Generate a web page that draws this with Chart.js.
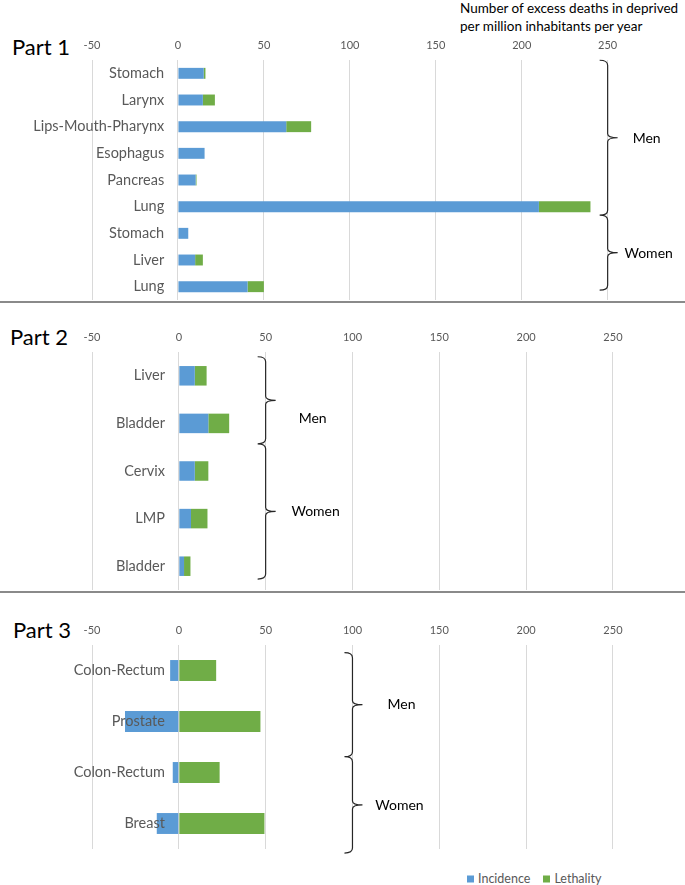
<!DOCTYPE html>
<html>
<head>
<meta charset="utf-8">
<script src="https://cdn.jsdelivr.net/npm/chart.js@4/dist/chart.umd.min.js"></script>
<style>
  body { margin: 0; background: #fff; font-family: Lato, sans-serif; }
  #page { position: relative; width: 685px; height: 885px; overflow: hidden; }
  .box { position: absolute; left: 0; }
  .part { position: absolute; font-size: 22px; color: #000; transform: translateY(-50%); line-height: 1; }
  .rule { position: absolute; left: 0; width: 685px; height: 2px; background: #8a8a8a; }
  #title { position: absolute; left: 460px; top: -1px; font-size: 13.5px; line-height: 18px; color: #000; white-space: nowrap; }
  #legend { position: absolute; left: 467px; top: 878px; transform: translateY(-50%); display: flex; gap: 13px; font-size: 12.5px; color: #595959; }
  #legend span.sw { display: inline-block; width: 7px; height: 7px; margin-right: 4px; }
</style>
</head>
<body>
<div id="page">
  <div id="title">Number of excess deaths in deprived<br>per million inhabitants per year</div>
  <div class="part" style="left:12px; top:47px;">Part 1</div>
  <div class="part" style="left:10px; top:337px;">Part 2</div>
  <div class="part" style="left:13px; top:630px;">Part 3</div>
  <div class="rule" style="top:301px;"></div>
  <div class="rule" style="top:591px;"></div>
  <div class="box" style="top:32px;"><canvas id="part1" width="685" height="268"></canvas></div>
  <div class="box" style="top:324px;"><canvas id="part2" width="685" height="266"></canvas></div>
  <div class="box" style="top:617px;"><canvas id="part3" width="685" height="240"></canvas></div>
  <div id="legend"></div>
</div>
<script>
// Part 1
const part1Labels = ['Stomach', 'Larynx', 'Lips-Mouth-Pharynx', 'Esophagus', 'Pancreas', 'Lung', 'Stomach', 'Liver', 'Lung'];
const part1Incidence = [15, 14.5, 63, 15.5, 10.3, 210, 6, 10, 40.5];
const part1Lethality = [1, 7, 14.5, 0, 0.5, 30, 0, 4.5, 9.5];

// Part 2
const part2Labels = ['Liver', 'Bladder', 'Cervix', 'LMP', 'Bladder'];
const part2Incidence = [9.2, 17, 9.2, 7, 3];
const part2Lethality = [6.8, 12, 7.8, 9.5, 3.7];

// Part 3
const part3Labels = ['Colon-Rectum', 'Prostate', 'Colon-Rectum', 'Breast'];
const part3Incidence = [-5, -31, -3.5, -12.7];
const part3Lethality = [21.5, 47, 23.5, 49.3];

const seriesNames = ['Incidence', 'Lethality'];
const groupNames = ['Men', 'Women'];
const xMin = -50;
const xStep = 50;

const BLUE = '#5B9BD5';
const GREEN = '#70AD47';

Chart.defaults.font.family = 'Lato, sans-serif';

// curly braces grouping Men / Women at the right of each part
const bracePlugin = {
    id: 'braces',
    afterDraw(chart, args, opts) {
        const ctx = chart.ctx;
        const x = chart.scales.x;
        const y = chart.scales.y;
        const bx = x.getPixelForValue(opts.at);
        const marks = opts.marks.map(v => y.getPixelForValue(v));

        ctx.save();
        ctx.strokeStyle = '#262626';
        ctx.lineWidth = 1.2;
        ctx.beginPath();
        for (let i = 0; i < marks.length - 1; i++) {
            const top = marks[i];
            const bot = marks[i + 1];
            const mid = (top + bot) / 2;
            ctx.moveTo(bx - 8, top);
            ctx.quadraticCurveTo(bx, top, bx, top + 5);
            ctx.lineTo(bx, mid - 4);
            ctx.quadraticCurveTo(bx, mid, bx + 10, mid);
            ctx.moveTo(bx + 10, mid);
            ctx.quadraticCurveTo(bx, mid, bx, mid + 4);
            ctx.lineTo(bx, bot - 5);
            ctx.quadraticCurveTo(bx, bot, bx - 8, bot);
        }
        ctx.stroke();

        ctx.fillStyle = '#000';
        ctx.font = '14px Lato, sans-serif';
        ctx.textAlign = 'center';
        ctx.textBaseline = 'middle';
        opts.labels.forEach((l, i) => {
            ctx.fillText(groupNames[i], bx + l.dx, y.getPixelForValue(l.at));
        });
        ctx.restore();
    }
};

function makeChart(id, labels, incidence, lethality, xMax, brace, padBottom) {
    return new Chart(document.getElementById(id), {
        type: 'bar',
        data: {
            labels: labels,
            datasets: [
                { label: seriesNames[0], data: incidence, backgroundColor: BLUE },
                { label: seriesNames[1], data: lethality, backgroundColor: GREEN }
            ]
        },
        options: {
            indexAxis: 'y',
            responsive: false,
            animation: false,
            layout: { padding: { left: 92, right: 0, top: 0, bottom: padBottom || 0 } },
            datasets: { bar: { barPercentage: 0.41, categoryPercentage: 1 } },
            plugins: {
                legend: { display: false },
                tooltip: { enabled: false },
                braces: brace
            },
            scales: {
                x: {
                    position: 'top',
                    stacked: true,
                    min: xMin,
                    max: xMax,
                    afterFit: s => { s.height = 28; },
                    ticks: { stepSize: xStep, includeBounds: false, padding: 8, color: '#595959', font: { size: 11 } },
                    grid: { color: '#D9D9D9', drawTicks: false },
                    border: { display: false }
                },
                y: {
                    position: { x: -8 },
                    stacked: true,
                    afterFit: s => { s.paddingTop = 0; s.paddingBottom = 0; },
                    grid: { display: false },
                    border: { display: false },
                    ticks: { color: '#595959', font: { size: 14.5 }, padding: 0, z: 1 }
                }
            }
        },
        plugins: [bracePlugin]
    });
}

makeChart('part1', part1Labels, part1Incidence, part1Lethality, 295,
    { at: 250, marks: [-0.49, 5.32, 8.13], labels: [{ at: 2.43, dx: 39 }, { at: 6.74, dx: 41 }] });
makeChart('part2', part2Labels, part2Incidence, part2Lethality, 291.5,
    { at: 50, marks: [-0.4, 1.43, 4.27], labels: [{ at: 0.9, dx: 47 }, { at: 2.86, dx: 50 }] });
const chart3 = makeChart('part3', part3Labels, part3Incidence, part3Lethality, 291.5,
    { at: 100, marks: [-0.35, 1.69, 3.58], labels: [{ at: 0.67, dx: 49 }, { at: 2.65, dx: 47 }] }, 8);

// legend built from the chart's datasets
const legend = document.getElementById('legend');
chart3.data.datasets.forEach(ds => {
    const item = document.createElement('div');
    item.innerHTML = '<span class="sw" style="background:' + ds.backgroundColor + '"></span>' + ds.label;
    legend.appendChild(item);
});
</script>
</body>
</html>
